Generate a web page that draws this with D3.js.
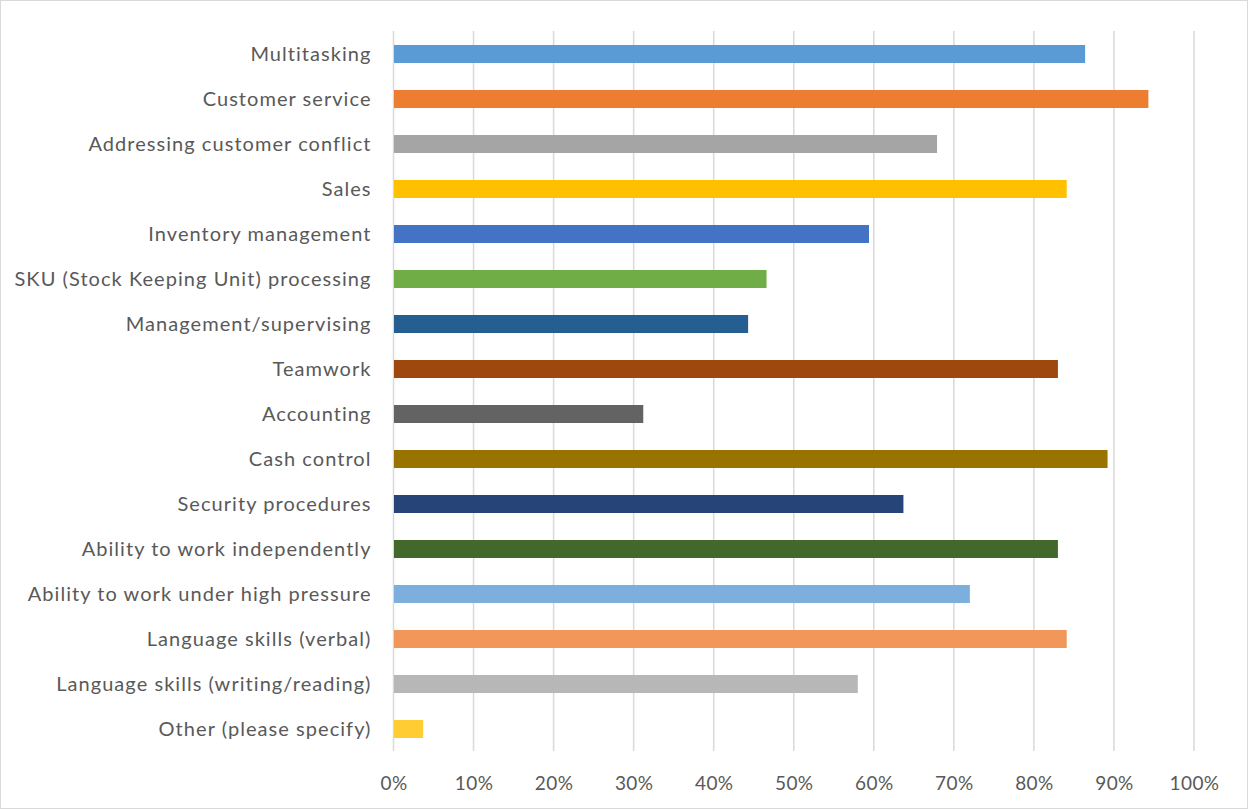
<!DOCTYPE html>
<html>
<head>
<meta charset="utf-8">
<script src="https://cdn.jsdelivr.net/npm/d3@7"></script>
<style>
  html, body { margin: 0; padding: 0; background: #fff; }
  svg { display: block; }
  text { font-family: Lato, "Open Sans", sans-serif; fill: #595959; }
</style>
</head>
<body>
<svg id="chart" width="1248" height="809"></svg>
<script>
// Skills required for the role (share of respondents)
const categories = [
  "Multitasking",
  "Customer service",
  "Addressing customer conflict",
  "Sales",
  "Inventory management",
  "SKU (Stock Keeping Unit) processing",
  "Management/supervising",
  "Teamwork",
  "Accounting",
  "Cash control",
  "Security procedures",
  "Ability to work independently",
  "Ability to work under high pressure",
  "Language skills (verbal)",
  "Language skills (writing/reading)",
  "Other (please specify)"
];
const values = [0.864, 0.943, 0.679, 0.841, 0.594, 0.466, 0.443, 0.830, 0.312, 0.892, 0.637, 0.830, 0.720, 0.841, 0.580, 0.037];
const colors = [
  "#5B9BD5", "#ED7D31", "#A5A5A5", "#FFC000", "#4472C4", "#70AD47",
  "#255E91", "#9E480E", "#636363", "#997300", "#264478", "#43682B",
  "#7CAFDD", "#F1975A", "#B7B7B7", "#FFCD33"
];
const tickValues = [0, 0.1, 0.2, 0.3, 0.4, 0.5, 0.6, 0.7, 0.8, 0.9, 1.0];

const svg = d3.select("#chart");
const W = 1248, H = 809;

// chart frame
svg.append("rect")
  .attr("x", 0.5).attr("y", 0.5)
  .attr("width", W - 1).attr("height", H - 1)
  .attr("fill", "#fff").attr("stroke", "#D9D9D9");

const x = d3.scaleLinear().domain([0, 1]).range([393.5, 1194]);
const y = d3.scaleBand().domain(categories).range([31.5, 751.5]).paddingInner(0.6).paddingOuter(0.3);

// vertical gridlines
svg.append("g")
  .selectAll("line")
  .data(tickValues)
  .join("line")
  .attr("x1", d => x(d)).attr("x2", d => x(d))
  .attr("y1", 31).attr("y2", 751)
  .attr("stroke", "#D9D9D9").attr("stroke-width", 1.5);

// bars
svg.append("g")
  .selectAll("rect")
  .data(values)
  .join("rect")
  .attr("x", x(0) + 0.5)
  .attr("y", (d, i) => y(categories[i]))
  .attr("width", d => x(d) - x(0) - 0.5)
  .attr("height", y.bandwidth())
  .attr("fill", (d, i) => colors[i]);

// category labels
const yAxis = d3.axisLeft(y).tickSize(0).tickPadding(22);
const gy = svg.append("g").attr("transform", `translate(${x(0)},0)`).call(yAxis);
gy.select(".domain").remove();
gy.selectAll("text")
  .style("font-family", "Lato, 'Open Sans', sans-serif")
  .style("font-size", "20px")
  .style("letter-spacing", "1.05px")
  .attr("dy", "0.35em")
  .attr("fill", "#595959");

// percentage axis
const xAxis = d3.axisBottom(x).tickValues(tickValues).tickFormat(d3.format(".0%")).tickSize(0).tickPadding(26);
const gx = svg.append("g").attr("transform", "translate(0,751)").call(xAxis);
gx.select(".domain").remove();
gx.selectAll("text")
  .style("font-family", "Lato, 'Open Sans', sans-serif")
  .style("font-size", "19px")
  .style("letter-spacing", "0.4px")
  .attr("fill", "#595959");
</script>
</body>
</html>
